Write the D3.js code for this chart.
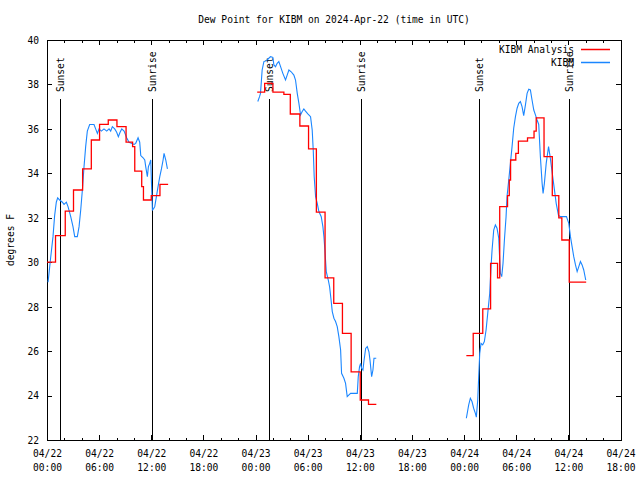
<!DOCTYPE html>
<html>
<head>
<meta charset="utf-8">
<script src="https://cdn.jsdelivr.net/npm/d3@7"></script>
<style>
  html, body { margin: 0; padding: 0; background: #fff; }
  svg { display: block; }
  text { font-family: "DejaVu Sans Mono", monospace; font-size: 9.6px; fill: #000; }
</style>
</head>
<body>
<svg id="chart" width="640" height="480"></svg>
<script>
// ---- data (hours after 2024-04-22 00:00 UTC, dew point in °F) ----
const chartTitle = "Dew Point for KIBM on 2024-Apr-22 (time in UTC)";
const yLabel = "degrees F";
const seriesNames = ["KIBM Analysis", "KIBM"];
const yTicks = [22, 24, 26, 28, 30, 32, 34, 36, 38, 40];
const xMajorHours = [0, 6, 12, 18, 24, 30, 36, 42, 48, 54, 60, 66];
const sunsetHours = [1.53, 25.55, 49.72];
const sunriseHours = [12.11, 36.1, 60.07];

const analysis1 = [[0,30.0],[0.98,31.2],[2.1,32.3],[3.05,33.25],[4.1,34.2],[5.1,35.5],[6.05,36.2],[7.05,36.4],[8.05,36.1],[9.1,35.4],[9.85,35.2],[10.1,34.1],[10.9,33.4],[11.1,32.8],[12.0,33.0],[13.0,33.5],[13.94,33.5]];
const analysis2 = [[24.19,37.65],[25.05,38.05],[26.0,37.65],[27.26,37.55],[28.0,36.67],[29.1,36.13],[30.1,35.1],[31.0,32.25],[32.0,29.3],[33.0,28.15],[34.0,26.8],[35.0,25.07],[36.05,23.8],[37.0,23.6],[37.9,23.6]];
const analysis3 = [[48.26,25.8],[49.05,26.8],[50.15,27.9],[51.05,29.95],[51.85,29.3],[52.1,32.5],[53.0,33.0],[53.2,33.7],[53.35,34.6],[53.95,34.9],[54.25,35.45],[55.3,35.6],[56.05,35.9],[56.3,36.5],[57.2,34.75],[58.15,33.0],[58.9,32.0],[59.25,31.0],[60.1,29.1],[62.05,29.1]];

const kibm1 = [[0.12,29.1],[0.23,29.5],[0.42,30.2],[0.69,31.15],[0.88,32.1],[1.07,32.7],[1.23,32.9],[1.46,32.8],[1.77,32.7],[1.96,32.6],[2.23,32.7],[2.42,32.5],[2.73,32.05],[2.99,31.6],[3.19,31.15],[3.49,31.15],[3.69,31.6],[3.88,32.35],[4.07,33.25],[4.26,34.3],[4.45,35.2],[4.64,35.9],[4.91,36.2],[5.41,36.2],[5.6,36.0],[5.8,35.8],[5.99,36.0],[6.26,35.9],[6.56,36.0],[6.87,35.9],[7.14,36.0],[7.33,35.9],[7.52,36.1],[7.79,36.0],[8.02,35.85],[8.21,35.65],[8.41,35.85],[8.6,36.0],[8.87,35.9],[9.17,35.6],[9.44,35.4],[9.71,35.35],[10.02,35.3],[10.21,35.35],[10.48,35.6],[10.67,35.4],[10.79,34.8],[11.06,34.7],[11.25,34.6],[11.36,34.3],[11.55,33.85],[11.67,34.3],[11.82,34.45],[11.94,34.6],[12.02,33.6],[12.13,32.35],[12.25,32.4],[12.4,32.5],[12.59,32.95],[12.78,33.4],[12.98,33.85],[13.17,34.2],[13.36,34.6],[13.47,34.9],[13.67,34.6],[13.86,34.2]];
const kibm2 = [[24.26,37.23],[24.46,37.45],[24.57,37.6],[24.76,38.65],[24.96,39.03],[25.22,39.07],[25.53,39.18],[25.72,39.25],[25.99,39.22],[26.11,38.88],[26.3,38.8],[26.49,38.95],[26.68,39.03],[26.88,38.8],[27.14,38.5],[27.45,38.2],[27.64,38.42],[27.84,38.65],[28.1,38.57],[28.41,38.42],[28.6,38.2],[28.8,37.6],[28.99,37.15],[29.18,36.63],[29.37,36.78],[29.56,36.9],[29.75,36.8],[30.02,36.68],[30.33,36.55],[30.52,35.95],[30.64,35.05],[30.75,33.85],[30.91,32.95],[31.1,32.65],[31.29,32.28],[31.56,32.05],[31.75,31.6],[31.87,31.15],[31.98,30.55],[32.14,29.58],[32.37,29.2],[32.52,28.9],[32.67,28.38],[32.83,27.78],[33.02,27.48],[33.21,27.33],[33.4,27.1],[33.59,26.65],[33.79,26.05],[33.9,25.0],[34.17,24.78],[34.36,24.55],[34.55,23.95],[34.75,24.03],[34.94,24.1],[35.51,24.1],[35.71,24.1],[35.82,24.85],[35.97,25.3],[36.09,25.45],[36.2,25.23],[36.36,25.15],[36.47,25.53],[36.67,26.12],[36.86,26.2],[37.05,25.97],[37.17,25.6],[37.36,24.85],[37.51,25.15],[37.63,25.68],[37.89,25.68]];
const kibm3 = [[48.26,22.98],[48.53,23.58],[48.72,23.88],[48.91,23.73],[49.1,23.43],[49.3,23.2],[49.41,23.03],[49.57,23.8],[49.68,24.85],[49.8,25.9],[49.95,26.35],[50.14,26.28],[50.33,26.43],[50.53,26.95],[50.72,27.7],[50.95,28.6],[51.1,29.8],[51.22,30.55],[51.41,31.45],[51.6,31.68],[51.79,31.53],[51.99,31.08],[52.1,30.1],[52.18,29.5],[52.33,29.35],[52.48,29.95],[52.64,31.0],[52.83,32.05],[52.94,32.95],[53.14,33.7],[53.33,34.45],[53.52,35.2],[53.71,36.03],[53.91,36.55],[54.1,36.93],[54.29,37.15],[54.48,37.23],[54.67,37.0],[54.86,36.6],[55.06,37.08],[55.25,37.6],[55.44,37.78],[55.63,37.75],[55.82,37.3],[56.02,36.85],[56.21,36.63],[56.4,36.4],[56.59,36.2],[56.78,34.75],[56.98,33.55],[57.09,33.1],[57.24,33.55],[57.45,34.45],[57.72,35.2],[57.9,34.75],[58.1,34.15],[58.3,33.55],[58.6,32.65],[58.87,32.1],[59.1,32.05],[59.78,32.05],[60.05,31.75],[60.24,31.15],[60.43,30.7],[60.62,30.25],[60.82,29.88],[61.01,29.58],[61.2,29.8],[61.39,30.03],[61.58,29.88],[61.77,29.65],[62.0,29.2]];

const analysisSegments = [analysis1, analysis2, analysis3];
const kibmSegments = [kibm1, kibm2, kibm3];

// ---- layout ----
const L = 47, R = 621, T = 40, B = 440;
const colors = { analysis: "#ff0000", kibm: "#1a86ff" };
const base = Date.UTC(2024, 3, 22, 0, 0);
const toDate = h => new Date(base + h * 3600000);

const svg = d3.select("#chart");
const x = d3.scaleUtc().domain([toDate(0), toDate(66)]).range([L, 620.5]);
const y = d3.scaleLinear().domain([22, 40]).range([B, T]);

// frame
svg.append("rect").attr("x", L + 0.5).attr("y", T + 0.5)
  .attr("width", R - L).attr("height", B - T)
  .attr("fill", "none").attr("stroke", "#000").attr("stroke-width", 1)
  .attr("shape-rendering", "crispEdges");

const majorDates = xMajorHours.map(toDate);
const minorDates = d3.range(0, 67, 2).filter(h => h % 6 !== 0).map(toDate);
const fmtDay = d3.utcFormat("%m/%d"), fmtTime = d3.utcFormat("%H:%M");

function styleAxis(g) {
  g.select(".domain").remove();
  g.selectAll("line").attr("stroke", "#000").attr("shape-rendering", "crispEdges");
  g.selectAll("text").attr("font-family", null).attr("font-size", null);
}

// bottom major axis with two-line labels
const gxb = svg.append("g").attr("transform", `translate(0,${B})`)
  .call(d3.axisBottom(x).tickValues(majorDates).tickSize(-5).tickPadding(10).tickFormat(""))
  .call(styleAxis);
gxb.selectAll(".tick text").each(function(d) {
  const t = d3.select(this);
  t.attr("y", 0).attr("dy", null);
  t.append("tspan").attr("x", 0).attr("y", 17).text(fmtDay(d));
  t.append("tspan").attr("x", 0).attr("y", 31).text(fmtTime(d));
});
svg.append("g").attr("transform", `translate(0,${B})`)
  .call(d3.axisBottom(x).tickValues(minorDates).tickSize(-2.5).tickFormat(""))
  .call(styleAxis);
// top mirrored ticks
svg.append("g").attr("transform", `translate(0,${T})`)
  .call(d3.axisTop(x).tickValues(majorDates).tickSize(-5).tickFormat(""))
  .call(styleAxis);
svg.append("g").attr("transform", `translate(0,${T})`)
  .call(d3.axisTop(x).tickValues(minorDates).tickSize(-2.5).tickFormat(""))
  .call(styleAxis);

// y axes
const gyl = svg.append("g").attr("transform", `translate(${L},0)`)
  .call(d3.axisLeft(y).tickValues(yTicks).tickSize(-5).tickPadding(8).tickFormat(d3.format("d")))
  .call(styleAxis);
gyl.selectAll(".tick text").attr("dy", "0.35em");
svg.append("g").attr("transform", `translate(${R},0)`)
  .call(d3.axisRight(y).tickValues(yTicks).tickSize(-5).tickFormat(""))
  .call(styleAxis);

// sunrise / sunset markers
const sunEvents = sunsetHours.map(h => ({ h, label: "Sunset" }))
  .concat(sunriseHours.map(h => ({ h, label: "Sunrise" })));
const sunG = svg.append("g");
sunEvents.forEach(e => {
  const px = Math.round(x(toDate(e.h))) + 0.5;
  sunG.append("line").attr("x1", px).attr("x2", px).attr("y1", 99).attr("y2", B)
    .attr("stroke", "#000").attr("stroke-width", 1.2).attr("shape-rendering", "crispEdges");
  sunG.append("text").attr("transform", `translate(${px + 3.5},92) rotate(-90)`)
    .attr("text-anchor", "start").text(e.label);
});

// series
const line = d3.line().x(d => x(toDate(d[0]))).y(d => y(d[1]));
const stepLine = d3.line().x(d => x(toDate(d[0]))).y(d => y(d[1])).curve(d3.curveStepAfter);

svg.append("g").selectAll("path").data(kibmSegments).join("path")
  .attr("d", line).attr("fill", "none").attr("stroke", colors.kibm).attr("stroke-width", 1.1);
svg.append("g").selectAll("path").data(analysisSegments).join("path")
  .attr("d", stepLine).attr("fill", "none").attr("stroke", colors.analysis).attr("stroke-width", 1.3);

// legend
const legend = svg.append("g");
[[seriesNames[0], colors.analysis, 49.5], [seriesNames[1], colors.kibm, 62.5]].forEach(([name, c, ly]) => {
  legend.append("text").attr("x", 574).attr("y", ly).attr("dy", "0.35em").attr("text-anchor", "end").text(name);
  legend.append("line").attr("x1", 581).attr("x2", 610).attr("y1", ly).attr("y2", ly)
    .attr("stroke", c).attr("stroke-width", 1.5);
});

// title and y label
svg.append("text").attr("x", 334).attr("y", 20).attr("dy", "0.35em").attr("text-anchor", "middle").text(chartTitle);
svg.append("text").attr("transform", "translate(13.5,240) rotate(-90)").attr("text-anchor", "middle").text(yLabel);
</script>
</body>
</html>
